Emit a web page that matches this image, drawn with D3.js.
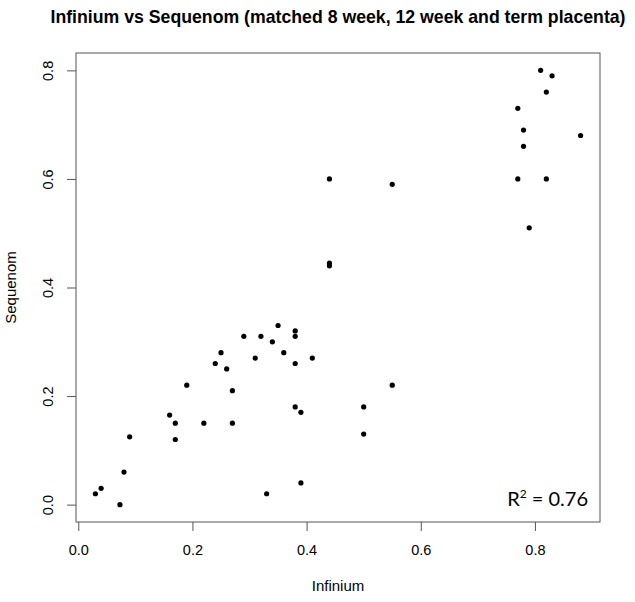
<!DOCTYPE html>
<html>
<head>
<meta charset="utf-8">
<script src="https://cdn.jsdelivr.net/npm/d3@7"></script>
<style>
  body { margin: 0; background: #fff; }
  text { font-family: "Liberation Sans", Arial, sans-serif; fill: #000; }
</style>
</head>
<body>
<div id="scatter"></div>
<script>
// data (Infinium on x, Sequenom on y)
var infinium = [
  0.03, 0.04, 0.073, 0.08, 0.09, 0.16, 0.17, 0.17, 0.19, 0.22,
  0.24, 0.25, 0.26, 0.27, 0.27, 0.29, 0.31, 0.32, 0.33, 0.34,
  0.35, 0.36, 0.38, 0.38, 0.38, 0.38, 0.39, 0.39, 0.41, 0.44,
  0.44, 0.44, 0.50, 0.50, 0.55, 0.55, 0.77, 0.77, 0.78, 0.78,
  0.79, 0.81, 0.82, 0.82, 0.83, 0.88
];
var sequenom = [
  0.02, 0.03, 0.00, 0.06, 0.125, 0.165, 0.15, 0.12, 0.22, 0.15,
  0.26, 0.28, 0.25, 0.21, 0.15, 0.31, 0.27, 0.31, 0.02, 0.30,
  0.33, 0.28, 0.32, 0.31, 0.26, 0.18, 0.17, 0.04, 0.27, 0.60,
  0.445, 0.44, 0.18, 0.13, 0.59, 0.22, 0.73, 0.60, 0.69, 0.66,
  0.51, 0.80, 0.76, 0.60, 0.79, 0.68
];
var tickValues = [0, 0.2, 0.4, 0.6, 0.8];
var chartTitle = "Infinium vs Sequenom (matched 8 week, 12 week and term placenta)";
var xLabel = "Infinium";
var yLabel = "Sequenom";
var rSquared = "0.76";

var points = infinium.map(function(d, i) {
  return { x: d, y: sequenom[i] };
});

// margins and svg
var margin = { top: 53, right: 35, bottom: 80, left: 76 };
var width = 635 - margin.left - margin.right;
var height = 602 - margin.top - margin.bottom;

var svgRoot = d3
  .select("#scatter")
  .append("svg")
  .attr("width", 635)
  .attr("height", 602);

var svg = svgRoot
  .append("g")
  .attr("transform", "translate(" + margin.left + "," + margin.top + ")");

// R style 4% padding on both ends
function padded(ext) {
  var p = (ext[1] - ext[0]) * 0.04;
  return [ext[0] - p, ext[1] + p];
}

var xScale = d3
  .scaleLinear()
  .domain(padded(d3.extent(infinium)))
  .range([0, width]);
var yScale = d3
  .scaleLinear()
  .domain(padded(d3.extent(sequenom)))
  .range([height, 0]);

var xAxis = d3
  .axisBottom(xScale)
  .tickValues(tickValues)
  .tickFormat(d3.format(".1f"))
  .tickSizeOuter(0)
  .tickSize(9)
  .tickPadding(14);

var yAxis = d3
  .axisLeft(yScale)
  .tickValues(tickValues)
  .tickFormat(d3.format(".1f"))
  .tickSizeOuter(0)
  .tickSize(9);

var xAxisGroup = svg
  .append("g")
  .attr("class", "x axis")
  .attr("transform", "translate(0," + height + ")")
  .call(xAxis);

var yAxisGroup = svg
  .append("g")
  .attr("class", "y axis")
  .call(yAxis);

// the box draws the axis lines
svg.selectAll(".domain").remove();
svg.selectAll(".tick line").attr("stroke", "#555");
svg.selectAll(".tick text")
  .attr("font-size", "14.5px")
  .attr("font-family", "Liberation Sans, Arial, sans-serif")
  .attr("fill", "#222");

// y labels run along the axis, like R's las = 0
yAxisGroup
  .selectAll("text")
  .attr("x", null)
  .attr("dy", null)
  .attr("text-anchor", "middle")
  .attr("transform", "translate(-23,0) rotate(-90)");

svg
  .append("rect")
  .attr("x", 0)
  .attr("y", 0)
  .attr("width", width)
  .attr("height", height)
  .attr("fill", "none")
  .attr("stroke", "#555")
  .attr("stroke-width", 1);

// points
svg
  .selectAll(".dot")
  .data(points)
  .enter()
  .append("circle")
  .attr("class", "dot")
  .attr("cx", function(d) {
    return xScale(d.x);
  })
  .attr("cy", function(d) {
    return yScale(d.y);
  })
  .attr("r", 2.6)
  .style("fill", "#000");

// titles
svgRoot
  .append("text")
  .attr("x", margin.left + width / 2)
  .attr("y", 23)
  .attr("text-anchor", "middle")
  .attr("font-size", "17.7px")
  .attr("font-weight", "bold")
  .text(chartTitle);

svgRoot
  .append("text")
  .attr("x", margin.left + width / 2)
  .attr("y", 591)
  .attr("text-anchor", "middle")
  .attr("font-size", "15px")
  .attr("fill", "#222")
  .text(xLabel);

svgRoot
  .append("text")
  .attr("transform", "translate(16," + (margin.top + height / 2) + ") rotate(-90)")
  .attr("text-anchor", "middle")
  .attr("font-size", "15px")
  .attr("fill", "#222")
  .text(yLabel);

// R squared note, bottom right
var rText = svg
  .append("text")
  .attr("x", width - 12)
  .attr("y", height - 16)
  .attr("text-anchor", "end")
  .style("font-family", "Lato, 'Open Sans', sans-serif")
  .attr("font-size", "20px");
rText.append("tspan").text("R");
rText.append("tspan").attr("font-size", "12px").attr("dy", "-8").text("2");
rText.append("tspan").attr("dy", "8").text(" = " + rSquared);
</script>
</body>
</html>
